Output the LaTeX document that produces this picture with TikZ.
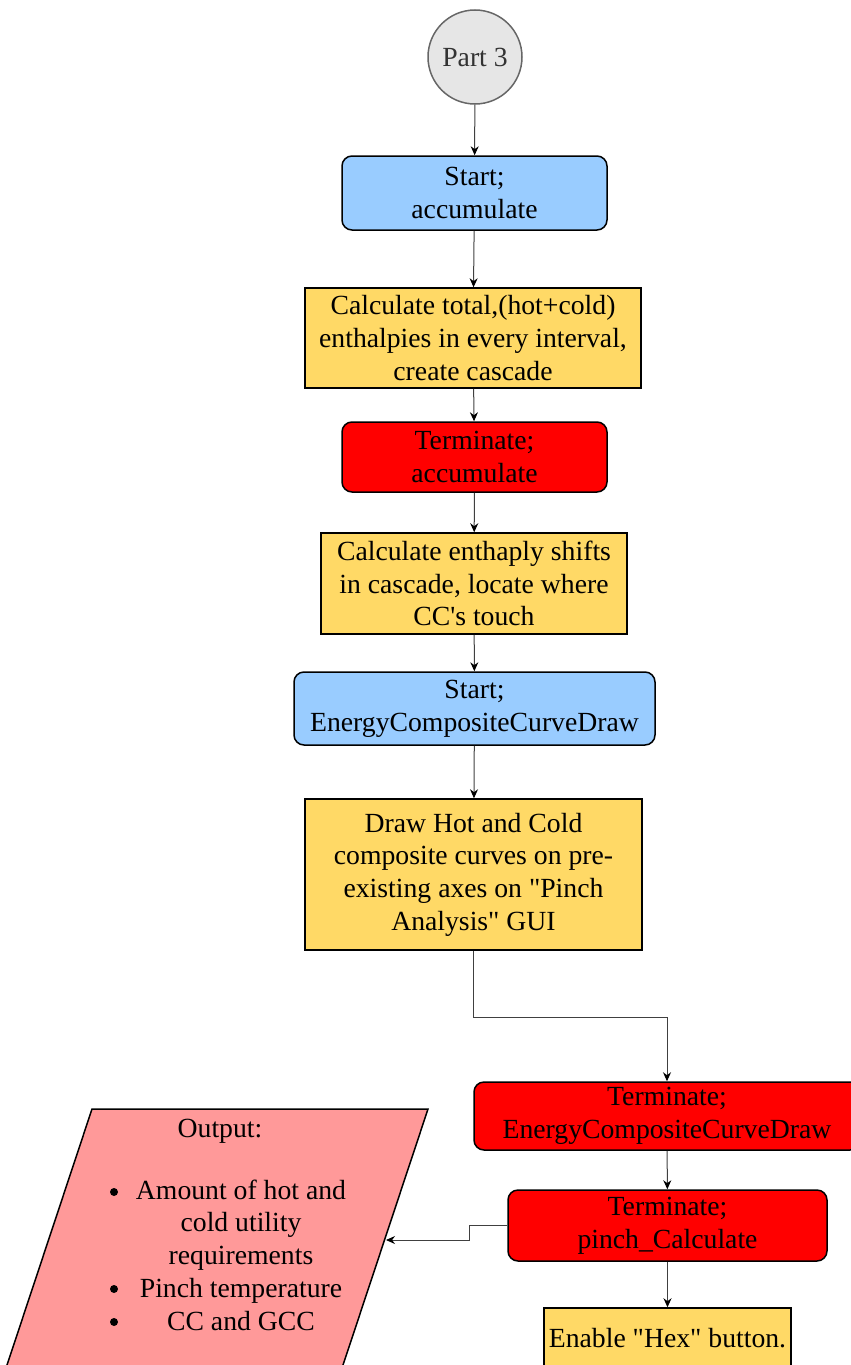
\documentclass[tikz,border=0pt]{standalone}
\usepackage{fontspec}
% a family without TeX ligature mapping keeps straight quotes
\newfontfamily\boxfont{Liberation Serif}
\usetikzlibrary{arrows.meta}
\definecolor{startblue}{HTML}{99CCFF}
\definecolor{procyellow}{HTML}{FFD966}
\definecolor{termred}{HTML}{FF0000}
\definecolor{outpink}{HTML}{FF9999}
\definecolor{circfill}{HTML}{E6E6E6}
\definecolor{circline}{HTML}{666666}
\definecolor{circtext}{HTML}{333333}
\begin{document}
\begin{tikzpicture}[x=1pt,y=-1pt,
  base/.style={draw=black, line width=1.5pt, align=center, inner sep=0pt,
    font=\boxfont\fontsize{27.7}{32.7}\selectfont},
  startbox/.style={base, rounded corners=10pt, fill=startblue},
  procbox/.style={base, fill=procyellow},
  termbox/.style={base, rounded corners=10pt, fill=termred},
  connbox/.style={base, circle, draw=circline, fill=circfill, text=circtext,
    minimum size=94pt},
  plain/.style={align=center, inner sep=0pt, font=\boxfont\fontsize{27.7}{32.7}\selectfont},
  dot/.style={circle, fill=black, inner sep=0pt, minimum size=8pt},
  arr/.style={draw=black!75, line width=1pt, -{Stealth[length=9pt,width=8pt,black]}}
]
\useasboundingbox (0,0) rectangle (851,1365);

% output parallelogram (runs past the lower edge)
\fill[outpink] (92,1109) -- (428,1109) -- (331.4,1400) -- (-4.6,1400) -- cycle;
\draw[black, line width=1.5pt] (-4.6,1400) -- (92,1109) -- (428,1109) -- (331.4,1400);
\coordinate (pout) at (386,1240);
\node[plain] (outtitle) at (220,1131) {Output:};
\node[plain] (outlist) at (241,1255) {Amount of hot and\\cold utility\\requirements\\Pinch temperature\\CC and GCC};
\node[dot] (b1) at (114,1192) {};
\node[dot] (b2) at (114,1289) {};
\node[dot] (b3) at (114,1322) {};

% main flow
\node[connbox] (part) at (475,57) {Part 3};
\node[startbox, minimum width=265pt, minimum height=74pt] (s1) at (474.5,193) {Start;\\accumulate};
\node[procbox, minimum width=336pt, minimum height=100pt] (c1) at (473,338) {Calculate total,(hot+cold)\\enthalpies in every interval,\\create cascade};
\node[termbox, minimum width=265pt, minimum height=70pt] (t1) at (474.5,457) {Terminate;\\accumulate};
\node[procbox, minimum width=306pt, minimum height=101pt] (c2) at (474,583.5) {Calculate enthaply shifts\\in cascade, locate where\\CC's touch};
\node[startbox, minimum width=361pt, minimum height=73pt] (s2) at (474.5,708.5) {Start;\\EnergyCompositeCurveDraw};
\node[procbox, minimum width=337pt, minimum height=151pt] (c3) at (473.5,874.5) {Draw Hot and Cold\\composite curves on pre-\\existing axes on "Pinch\\Analysis" GUI};
\node[termbox, minimum width=386pt, minimum height=68pt] (t2) at (667,1116) {Terminate;\\EnergyCompositeCurveDraw};
\node[termbox, minimum width=319pt, minimum height=71pt] (t3) at (667.5,1225.5) {Terminate;\\pinch\_Calculate};
\node[procbox, minimum width=247pt, minimum height=60pt] (hex) at (667.5,1338) {Enable "Hex" button.};

% connectors
\draw[arr] (part) -- (s1);
\draw[arr] (s1) -- (c1);
\draw[arr] (c1) -- (t1);
\draw[arr] (t1) -- (c2);
\draw[arr] (c2) -- (s2);
\draw[arr] (s2) -- (c3);
\draw[arr] (c3.south) -- ++(0,67) -| (t2.north);
\draw[arr] (t2) -- (t3);
\draw[arr] (t3) -- (hex);
\draw[arr] (t3.west) -- ++(-38,0) |- (pout);
\end{tikzpicture}
\end{document}
